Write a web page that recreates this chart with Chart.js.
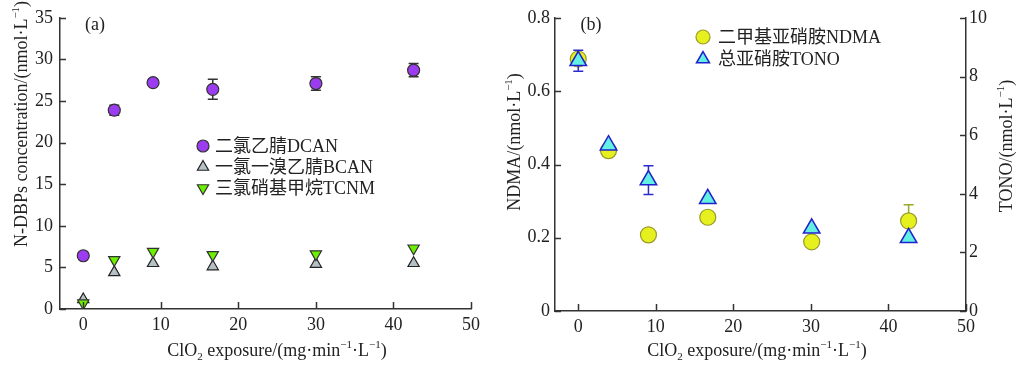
<!DOCTYPE html>
<html>
<head>
<meta charset="utf-8">
<script src="https://cdn.jsdelivr.net/npm/chart.js@4.4.0/dist/chart.umd.min.js"></script>
<style>
  html, body { margin:0; padding:0; background:#fff; }
  #wrap { position:relative; width:1016px; height:365px; overflow:hidden; }
  canvas { position:absolute; top:0; }
</style>
</head>
<body>
<div id="wrap">
  <canvas id="ca" width="500" height="365" style="left:0"></canvas>
  <canvas id="cb" width="516" height="365" style="left:500px"></canvas>
</div>
<script>
// ---- data ----
const exposureA = [0, 4, 9, 16.7, 30, 42.6];
const dcan    = [6.4, 23.9, 27.2, 26.4, 27.1, 28.7];
const dcanErr = [0, 0.6, 0.4, 1.2, 0.8, 0.8];
const bcan    = [1.15, 4.4, 5.5, 5.1, 5.4, 5.5];
const tcnm    = [0.7, 5.9, 6.9, 6.5, 6.6, 7.3];

const exposureB = [0, 3.9, 9.05, 16.7, 30.1, 42.6];
const ndma    = [0.688, 0.438, 0.208, 0.256, 0.189, 0.246];
const ndmaErr = [0, 0, 0, 0, 0, 0.044];
const tono    = [8.54, 5.66, 4.47, 3.83, 2.82, 2.5];
const tonoErr = [0.36, 0, 0.49, 0, 0, 0];

const xTicks     = [0, 10, 20, 30, 40, 50];
const yTicksA    = [0, 5, 10, 15, 20, 25, 30, 35];
const yTicksNdma = [0, 0.2, 0.4, 0.6, 0.8];
const yTicksTono = [0, 2, 4, 6, 8, 10];

const legendA = ['二氯乙腈DCAN', '一氯一溴乙腈BCAN', '三氯硝基甲烷TCNM'];
const legendB = ['二甲基亚硝胺NDMA', '总亚硝胺TONO'];

const FAM = "'Liberation Serif', 'Noto Sans CJK SC', serif";
Chart.defaults.font.family = FAM;
Chart.defaults.color = '#222';

function pts(xs, ys) { return xs.map((x, i) => ({ x: x, y: ys[i] })); }

function drawShape(ctx, shape, x, y, r, fill, stroke, lw, down) {
  ctx.save();
  ctx.beginPath();
  if (shape === 'circle') {
    ctx.arc(x, y, r, 0, Math.PI * 2);
  } else {
    const s = down ? -1 : 1;
    const h = r * Math.sin(Math.PI / 3);
    ctx.moveTo(x, y - s * r);
    ctx.lineTo(x + h, y + s * r / 2);
    ctx.lineTo(x - h, y + s * r / 2);
    ctx.closePath();
  }
  ctx.fillStyle = fill; ctx.fill();
  ctx.lineWidth = lw; ctx.strokeStyle = stroke; ctx.stroke();
  ctx.restore();
}

function drawRich(ctx, parts, cx, cy, rot, size) {
  ctx.save();
  ctx.translate(cx, cy);
  if (rot) ctx.rotate(rot);
  const fontOf = p => (p.k ? Math.round(size * 0.62) : size) + 'px ' + FAM;
  let w = 0;
  parts.forEach(p => { ctx.font = fontOf(p); p.w = ctx.measureText(p.t).width; w += p.w; });
  let x = -w / 2;
  ctx.textBaseline = 'alphabetic';
  ctx.fillStyle = '#222';
  const base = size * 0.33;
  parts.forEach(p => {
    ctx.font = fontOf(p);
    const dy = p.k === 'sup' ? -size * 0.42 : (p.k === 'sub' ? size * 0.22 : 0);
    ctx.fillText(p.t, x, base + dy);
    x += p.w;
  });
  ctx.restore();
}

const errPlugin = {
  id: 'errbars',
  beforeDatasetDraw(chart, args) {
    const ds = chart.data.datasets[args.index];
    if (!ds.err) return;
    const ctx = chart.ctx;
    const xs = chart.scales.x, ys = chart.scales[ds.yAxisID || 'y'];
    ctx.save();
    ctx.strokeStyle = ds.errColor; ctx.lineWidth = 1.5;
    ds.data.forEach((p, i) => {
      const e = ds.err[i];
      if (!e) return;
      const x = xs.getPixelForValue(p.x);
      const y1 = ys.getPixelForValue(p.y + e), y2 = ys.getPixelForValue(p.y - e);
      const c = ds.capW;
      ctx.beginPath();
      ctx.moveTo(x, y1); ctx.lineTo(x, y2);
      ctx.moveTo(x - c, y1); ctx.lineTo(x + c, y1);
      ctx.moveTo(x - c, y2); ctx.lineTo(x + c, y2);
      ctx.stroke();
    });
    ctx.restore();
  }
};

const tickPlugin = {
  id: 'inticks',
  afterDraw(chart) {
    const ctx = chart.ctx;
    ctx.save();
    ctx.strokeStyle = '#333'; ctx.lineWidth = 1.5;
    Object.values(chart.scales).forEach(s => {
      const len = s.isHorizontal() ? 7 : 6;
      s.ticks.forEach(t => {
        const p = Math.round(s.getPixelForValue(t.value)) + 0.5;
        ctx.beginPath();
        if (s.isHorizontal()) { ctx.moveTo(p, s.top); ctx.lineTo(p, s.top - len); }
        else if (s.position === 'left') { ctx.moveTo(s.right, p); ctx.lineTo(s.right + len, p); }
        else { ctx.moveTo(s.left, p); ctx.lineTo(s.left - len, p); }
        ctx.stroke();
      });
    });
    ctx.restore();
  }
};

const textPlugin = {
  id: 'texts',
  afterDraw(chart, args, opts) {
    const ctx = chart.ctx;
    (opts.titles || []).forEach(t => drawRich(ctx, t.parts.map(p => Object.assign({}, p)), t.x, t.y, t.rot || 0, t.size || 18));
    (opts.legend || []).forEach(l => {
      drawShape(ctx, l.shape, l.mx, l.y, l.r, l.fill, l.stroke, l.lw || 1.2, l.down);
      ctx.save();
      ctx.font = '18px ' + FAM; ctx.fillStyle = '#222'; ctx.textBaseline = 'middle';
      ctx.fillText(l.text, l.tx, l.y + 1);
      ctx.restore();
    });
  }
};

const xTitle = [{ t: 'ClO' }, { t: '2', k: 'sub' }, { t: ' exposure/(mg·min' }, { t: '−1', k: 'sup' }, { t: '·L' }, { t: '−1', k: 'sup' }, { t: ')' }];

function xScale(h) {
  return {
    type: 'linear', min: -3, max: 50, position: 'bottom',
    afterBuildTicks: s => { s.ticks = xTicks.map(v => ({ value: v })); },
    afterFit: s => { s.height = h; },
    grid: { display: true, drawOnChartArea: false, drawTicks: false },
    border: { display: true, color: '#333', width: 1.5 },
    ticks: { font: { size: 18 }, color: '#222', padding: 5, maxRotation: 0, autoSkip: false }
  };
}
function yScale(pos, min, max, tickVals, w, pad, fmt) {
  return {
    type: 'linear', min: min, max: max, position: pos,
    afterBuildTicks: s => { s.ticks = tickVals.map(v => ({ value: v })); },
    afterFit: s => { s.width = w; },
    grid: { display: true, drawOnChartArea: false, drawTicks: false },
    border: { display: true, color: '#333', width: 1.5 },
    ticks: { font: { size: 18 }, color: '#222', padding: pad, autoSkip: false, callback: fmt || (v => String(v)) }
  };
}

// ---- panel (a) ----
new Chart(document.getElementById('ca'), {
  type: 'scatter',
  data: { datasets: [
    { label: 'DCAN', data: pts(exposureA, dcan), err: dcanErr, errColor: '#333', capW: 5,
      pointStyle: 'circle', pointRadius: 6, backgroundColor: '#9b3cf0', borderColor: '#333', pointBorderWidth: 1.2, order: 1 },
    { label: 'BCAN', data: pts(exposureA, bcan),
      pointStyle: 'triangle', pointRadius: 6.5, backgroundColor: '#b4c0c4', borderColor: '#222', pointBorderWidth: 1.2, order: 3 },
    { label: 'TCNM', data: pts(exposureA, tcnm),
      pointStyle: 'triangle', pointRotation: 180, pointRadius: 6.5, backgroundColor: '#6cf000', borderColor: '#333', pointBorderWidth: 1.2, order: 2 }
  ]},
  options: {
    responsive: false, animation: false, events: [],
    layout: { padding: { top: 14, right: 29, left: 0, bottom: 0 } },
    plugins: {
      legend: { display: false }, tooltip: { enabled: false },
      texts: {
        titles: [
          { parts: xTitle, x: 277, y: 350 },
          { parts: [{ t: 'N-DBPs concentration/(nmol·L' }, { t: '−1', k: 'sup' }, { t: ')' }], x: 21, y: 124, rot: -Math.PI / 2 },
          { parts: [{ t: '(a)' }], x: 95, y: 24 }
        ],
        legend: [
          { shape: 'circle', mx: 203, y: 146, r: 6, fill: '#9b3cf0', stroke: '#333', text: legendA[0], tx: 215 },
          { shape: 'triangle', mx: 203, y: 167, r: 6.5, fill: '#b4c0c4', stroke: '#222', text: legendA[1], tx: 215 },
          { shape: 'triangle', mx: 203, y: 188, r: 6.5, fill: '#6cf000', stroke: '#333', text: legendA[2], tx: 215, down: true }
        ]
      }
    },
    scales: {
      x: xScale(56),
      y: yScale('left', 0, 35, yTicksA, 60, 7)
    }
  },
  plugins: [errPlugin, tickPlugin, textPlugin]
});

// ---- panel (b) ----
new Chart(document.getElementById('cb'), {
  type: 'scatter',
  data: { datasets: [
    { label: 'NDMA', data: pts(exposureB, ndma), err: ndmaErr, errColor: '#9aa82a', capW: 5, yAxisID: 'y',
      pointStyle: 'circle', pointRadius: 8, backgroundColor: '#e6f01e', borderColor: '#9a9a28', pointBorderWidth: 1.2, order: 2 },
    { label: 'TONO', data: pts(exposureB, tono), err: tonoErr, errColor: '#2a2ad0', capW: 5, yAxisID: 'y2',
      pointStyle: 'triangle', pointRadius: 9.5, backgroundColor: '#62f0e2', borderColor: '#2020cc', pointBorderWidth: 1.5, order: 1 }
  ]},
  options: {
    responsive: false, animation: false, events: [],
    layout: { padding: { top: 18, right: 0, left: 0, bottom: 0 } },
    plugins: {
      legend: { display: false }, tooltip: { enabled: false },
      texts: {
        titles: [
          { parts: xTitle, x: 257, y: 350 },
          { parts: [{ t: 'NDMA/(nmol·L' }, { t: '−1', k: 'sup' }, { t: ')' }], x: 14, y: 142, rot: -Math.PI / 2 },
          { parts: [{ t: 'TONO/(nmol·L' }, { t: '−1', k: 'sup' }, { t: ')' }], x: 506, y: 146, rot: -Math.PI / 2 },
          { parts: [{ t: '(b)' }], x: 91, y: 24 }
        ],
        legend: [
          { shape: 'circle', mx: 203, y: 37, r: 7, fill: '#e6f01e', stroke: '#9a9a28', text: legendB[0], tx: 218 },
          { shape: 'triangle', mx: 203, y: 59, r: 7.5, fill: '#62f0e2', stroke: '#2020cc', lw: 1.5, text: legendB[1], tx: 218 }
        ]
      }
    },
    scales: {
      x: xScale(54),
      y: yScale('left', 0, 0.8, yTicksNdma, 55, 5, v => (v === 0 ? '0' : v.toFixed(1))),
      y2: yScale('right', 0, 10, yTicksTono, 50, 3)
    }
  },
  plugins: [errPlugin, tickPlugin, textPlugin]
});
</script>
</body>
</html>
